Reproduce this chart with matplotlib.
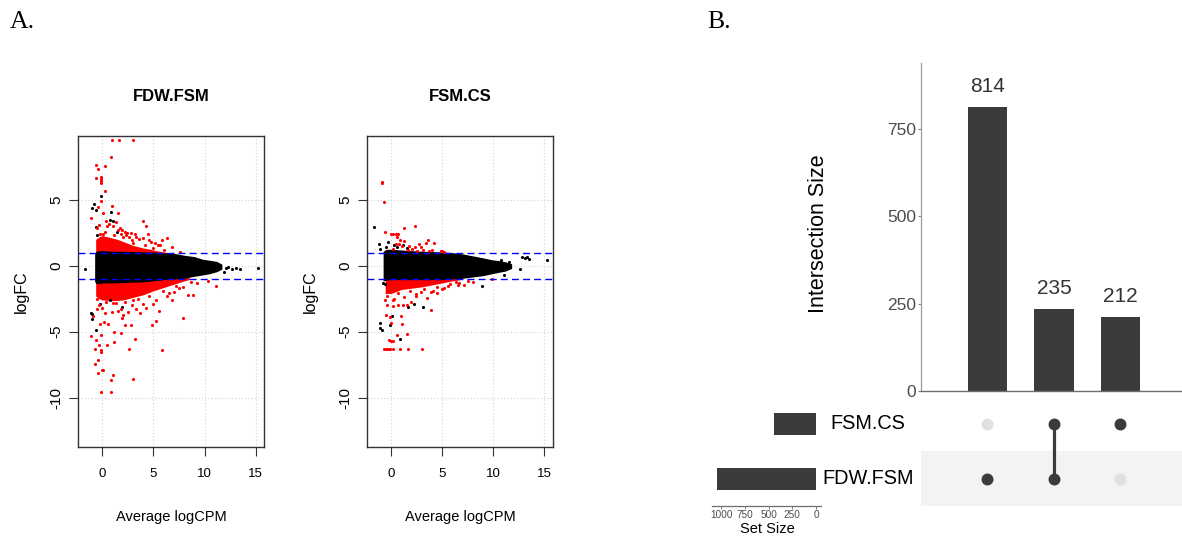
import matplotlib
matplotlib.use('Agg')
import matplotlib.pyplot as plt

W, H = 1182, 538
plt.rcParams['font.family'] = ['Liberation Sans', 'DejaVu Sans']

# ---------------- Panel A data (MA plots) ----------------
ma_titles = ['FDW.FSM', 'FSM.CS']
ma_xticks = [0, 5, 10, 15]
ma_yticks = [-10, -5, 0, 5]
fc_cut = 1.0

# FDW.FSM dense cloud (envelopes of the non-significant black band)
fdw_core_x = [-0.75, -0.6, -0.3, 0, 1, 2, 3, 4, 5, 6, 7, 8, 9, 9.8, 10.5, 11.2, 11.7]
fdw_core_hi = [0.9, 1.1, 1.15, 1.15, 1.1, 1.1, 1.08, 1.05, 1.05, 1.0, 0.95, 0.8, 0.7, 0.5, 0.42, 0.33, 0.12]
fdw_core_lo = [-1.2, -1.35, -1.35, -1.3, -1.3, -1.28, -1.25, -1.22, -1.15, -1.05, -1.0, -0.95, -0.8, -0.7, -0.6, -0.45, -0.25]
# FDW.FSM dense red band above and below the cut-offs
fdw_up_x = [-0.65, -0.3, 0, 0.5, 1, 1.5, 2, 2.5, 3, 3.5, 4, 4.5, 5, 5.5, 6, 6.5]
fdw_up_hi = [2.0, 2.2, 2.3, 2.2, 2.1, 2.0, 1.85, 1.7, 1.55, 1.45, 1.35, 1.28, 1.2, 1.12, 1.05, 1.0]
fdw_dn_x = [-0.65, -0.3, 0, 1, 2, 3, 4, 5, 6, 7, 8, 8.5]
fdw_dn_lo = [-2.3, -2.5, -2.6, -2.65, -2.6, -2.4, -2.2, -1.9, -1.65, -1.4, -1.15, -1.05]
# FDW.FSM individual significant (red) genes
fdw_red_x = [0.95, 1.66, 3.03, 0.88, -0.58, -0.42, 0.23, -0.61, -0.15, -0.12, -0.1, -0.13, 0.23, -0.1,
             -0.45, 0.98, 0.1, -1.13, 1.53, 3.95, 4.3, 4.47, 6.29, 5.83, 3.2, 4.73, 2.25, 2.3, 1.3, 1.0,
             0.7, 1.9, 2.6, 3.6, 5.2, 5.6, 6.8, 7.6, 4.0, 0.4, -0.3, 2.8, 1.7,
             -0.5, 0.1, 0.5, 1.1, 1.5, 2.0, 2.4, 3.0, 3.3, 4.2, 4.6, 5.0, 5.4, 6.0, 0.3, -0.2, 1.8, 2.9,
             10.3, 11.1, 8.9, 8.4, 7.86, 5.8, 5.54, 5.25, 4.9, 3.03, 3.2, 2.58, 2.77, 2.22, 1.89, 1.83,
             1.11, 1.14, 1.01, 0.85, 0.88, -0.09, 0.0, 0.08, -0.39, -0.39, -0.68, -0.71, -0.13, -0.13,
             -0.32, 0.42, -1.07, -0.65, -0.1, -0.2, 0.2, 0.6, -0.9, 7.0, 6.3, 7.5, 6.8, 4.3, 3.7, 2.5,
             0.3, 1.5, -0.5, 5.0, 3.3,
             -0.5, 0.0, 0.4, 0.9, 1.3, 1.8, 2.2, 2.9, 3.5, 4.0, 4.6, 5.3, 5.9, 6.5, 7.2, 7.9, 8.7, 9.3,
             -0.3, 1.0, 2.0, 3.0]
fdw_red_y = [9.55, 9.55, 9.55, 8.28, 7.67, 7.31, 7.54, 6.63, 6.76, 6.6, 6.45, 6.32, 5.69, 4.95,
             4.49, 4.51, 4.04, 3.63, 4.01, 3.43, 3.0, 2.39, 2.13, 1.98, 2.39, 1.83, 2.6, 2.3, 3.3, 3.0,
             3.2, 2.7, 2.2, 2.0, 1.7, 1.6, 1.4, 1.05, 2.1, 3.4, 3.1, 2.5, 2.9,
             2.9, 2.45, 3.05, 2.35, 2.75, 2.15, 2.5, 1.75, 2.15, 1.55, 1.95, 1.35, 1.6, 1.2, 2.6, 2.4, 2.45, 1.95,
             -1.15, -1.5, -2.24, -2.21, -3.94, -6.4, -3.43, -4.22, -4.47, -8.59, -5.54, -6.28, -4.52, -4.52, -3.94, -5.08,
             -5.0, -5.8, -8.28, -8.69, -9.56, -9.56, -7.9, -7.95, -8.13, -7.19, -7.45, -6.28, -6.4, -6.55,
             -6.0, -6.0, -5.36, -5.64, -5.24, -4.4, -4.3, -4.4, -3.8, -2.0, -2.3, -1.7, -2.6, -3.2, -3.6, -3.5,
             -3.6, -3.4, -3.3, -2.9, -3.3,
             -2.5, -3.2, -2.75, -3.5, -2.8, -3.3, -2.75, -3.0, -2.55, -2.9, -2.3, -2.6, -1.9, -2.1, -1.55, -1.6, -1.2, -1.3,
             -3.0, -2.8, -3.7, -2.6]
# FDW.FSM individual non-significant (black) genes outside the dense band
fdw_blk_x = [-0.15, -0.85, -0.97, -0.62, 1.04, -0.62, 0.85, -0.55, 1.4, 0.75,
             12.06, 12.65, 13.04, 13.46, 15.25, -1.69, 12.3, 11.9,
             -1.1, -1.05, -1.0, -0.65, -0.2, 0.8, 1.9]
fdw_blk_y = [5.33, 4.67, 4.42, 4.27, 3.37, 2.95, 4.09, 2.3, 2.6, 3.45,
             -0.2, -0.26, -0.15, -0.26, -0.15, -0.26, -0.1, -0.45,
             -3.6, -3.64, -4.04, -4.85, -2.9, -2.6, -3.1]

# FSM.CS dense cloud
fcs_core_x = [-0.8, -0.5, 0, 1, 2, 3, 4, 5, 6, 7, 8, 9, 9.9, 10.5, 11.2, 11.8]
fcs_core_hi = [1.1, 1.25, 1.25, 1.2, 1.15, 1.1, 1.08, 1.05, 1.0, 0.9, 0.75, 0.6, 0.45, 0.4, 0.3, 0.15]
fcs_core_lo = [-1.15, -1.1, -1.05, -1.05, -1.05, -1.05, -1.05, -1.05, -1.0, -0.95, -0.85, -0.75, -0.6, -0.5, -0.4, -0.2]
fcs_dn_x = [-0.6, 0, 0.5, 1, 2, 3, 4, 5, 6, 7]
fcs_dn_lo = [-2.1, -2.1, -1.95, -1.8, -1.7, -1.6, -1.45, -1.3, -1.15, -1.02]
fcs_red_x = [-0.91, -0.88, -0.69, 1.25, 2.33, -0.65, 0.0, 0.13, 0.49, 0.66, 0.6, 0.9, 1.28, 2.7, 3.58,
             4.17, 3.45, 4.86, 4.95, 2.3, 2.95, 3.1, 1.74, 1.05, 0.45, 0.8, 1.6, 2.5, 4.0, 3.7, 0.2,
             5.2, 2.0,
             9.9, 7.1, 6.6, 6.3, 4.47, 4.1, 3.9, 3.48, 2.43, 1.9, 1.55, 1.14, 0.66, 0.17, -0.52, -0.16,
             -0.06, 0.98, 1.02, 0.6, 1.51, -0.2, -0.07, 0.17, -0.69, -0.55, -0.39, -0.26, -0.13, 0.2,
             0.89, 1.64, 3.05, -0.6, -0.4, 0.3, 2.9, 5.2, 5.6,
             -0.4, 0.2, 0.7, 1.2, 1.8, 2.4, 3.2, 3.9, 4.5, 5.0, 5.8, 6.5, 7.5, 8.0]
fcs_red_y = [6.32, 6.35, 4.82, 2.89, 3.02, 2.56, 2.39, 2.39, 2.39, 2.39, 2.15, 1.98, 1.88, 1.68, 1.95,
             1.75, 1.7, 1.14, 1.1, 1.4, 1.4, 1.2, 1.52, 1.5, 1.65, 1.65, 1.2, 1.1, 1.2, 1.1, 1.3,
             1.05, 1.25,
             -1.02, -1.48, -1.3, -1.2, -2.06, -1.91, -3.33, -2.44, -2.29, -2.75, -3.0, -3.0, -3.0, -3.07, -3.71, -3.89,
             -4.32, -3.81, -4.45, -5.29, -5.21, -5.6, -5.7, -5.74, -6.3, -6.3, -6.3, -6.3, -6.3, -6.3,
             -6.3, -6.3, -6.3, -2.6, -3.0, -2.5, -2.0, -1.7, -1.5,
             -2.3, -2.6, -2.05, -2.4, -1.9, -2.15, -1.75, -2.0, -1.6, -1.75, -1.35, -1.45, -1.15, -1.25]
fcs_blk_x = [-1.7, -1.21, -1.15, 12.8, 13.13, 13.3, 13.5, 15.26, 10.8, 11.5, 12.57, 11.06, 8.86,
             3.15, 2.23, 1.64, 0.04, -0.13, -1.07, -1.1, -0.87, 0.82, -0.6, -0.8, 0.3, -0.3, 1.1,
             -0.5, 0.6, 1.5]
fcs_blk_y = [2.92, 1.63, 1.3, 0.69, 0.56, 0.63, 0.48, 0.43, 0.45, 0.3, -0.28, -0.69, -1.53,
             -3.13, -2.87, -3.13, -3.81, -4.52, -4.37, -4.7, -4.85, -5.57, -1.4, -1.3, 1.6, 1.8, 1.55,
             1.45, 1.4, 1.35]

# ---------------- Panel B data (UpSet) ----------------
set_names = ['FDW.FSM', 'FSM.CS']          # bottom row first
set_sizes = [1049, 447]
intersection_sizes = [814, 235, 212]
membership = [[1, 0], [1, 1], [0, 1]]       # per intersection: in FDW.FSM, in FSM.CS
inter_yticks = [0, 250, 500, 750]
set_xticks = [1000, 750, 500, 250, 0]

fig = plt.figure(figsize=(W / 100, H / 100), dpi=100)


def px_axes(x0, y0, x1, y1):
    return fig.add_axes([x0 / W, 1 - y1 / H, (x1 - x0) / W, (y1 - y0) / H])


def ftext(x, y, s, **kw):
    return fig.text(x / W, 1 - y / H, s, **kw)


def ma_panel(ax, core, up, dn, red, blk):
    for t in ma_xticks:
        ax.axvline(t, color='#d3d3d3', lw=0.8, ls=(0, (1, 2)), zorder=0)
    for t in ma_yticks:
        ax.axhline(t, color='#d3d3d3', lw=0.8, ls=(0, (1, 2)), zorder=0)
    if up is not None:
        ax.fill_between(up[0], [0.9] * len(up[0]), up[1], color='red', lw=0, zorder=1)
    ax.fill_between(dn[0], dn[1], [-0.9] * len(dn[0]), color='red', lw=0, zorder=1)
    ax.fill_between(core[0], core[2], core[1], color='black', lw=0, zorder=2)
    ax.scatter(blk[0], blk[1], s=5, c='black', lw=0, zorder=3)
    ax.scatter(red[0], red[1], s=5, c='red', lw=0, zorder=3)
    for c in (fc_cut, -fc_cut):
        ax.axhline(c, color='blue', lw=1.0, ls=(0, (5, 3)), zorder=4)
    ax.set_xlim(-2.35, 15.85)
    ax.set_ylim(-13.72, 9.83)
    ax.set_xticks(ma_xticks)
    ax.set_xticklabels([str(t) for t in ma_xticks], fontsize=9.5)
    ax.set_yticks(ma_yticks)
    ax.set_yticklabels([str(t) for t in ma_yticks], fontsize=11, rotation=90, va='center')
    ax.tick_params(axis='x', length=6.5, width=0.8, color='#333333', pad=9)
    ax.tick_params(axis='y', length=6.5, width=0.8, color='#333333', pad=4)
    for sp in ax.spines.values():
        sp.set_color('#333333')
        sp.set_linewidth(1.0)


axL = px_axes(78.3, 136.3, 264.3, 446.5)
ma_panel(axL, (fdw_core_x, fdw_core_hi, fdw_core_lo), (fdw_up_x, fdw_up_hi),
         (fdw_dn_x, fdw_dn_lo), (fdw_red_x, fdw_red_y), (fdw_blk_x, fdw_blk_y))
axR = px_axes(367.3, 136.3, 553.0, 446.5)
ma_panel(axR, (fcs_core_x, fcs_core_hi, fcs_core_lo), None,
         (fcs_dn_x, fcs_dn_lo), (fcs_red_x, fcs_red_y), (fcs_blk_x, fcs_blk_y))

for cx, ttl, ylx in ((171.3, ma_titles[0], 21.7), (460.2, ma_titles[1], 310.7)):
    ftext(cx, 96.7, ttl, fontsize=12, fontweight='bold', ha='center', va='center')
    ftext(cx, 516.7, 'Average logCPM', fontsize=10.5, ha='center', va='center')
    ftext(ylx, 291.4, 'logFC', fontsize=11.5, rotation=90, ha='center', va='center')

ftext(10, 22, 'A.', fontsize=18.5, family='Liberation Serif', ha='left', va='center')
ftext(707, 22, 'B.', fontsize=18.5, family='Liberation Serif', ha='left', va='center')

# ---------------- Panel B: UpSet ----------------
dark = '#3b3b3b'
xs = [1, 2, 3]

axB = px_axes(921, 63, 1182, 391)
axB.bar(xs, intersection_sizes, width=0.6, color=dark, zorder=2)
for x, v in zip(xs, intersection_sizes):
    axB.annotate(str(v), (x, v), xytext=(0, 8), textcoords='offset points',
                 ha='center', va='bottom', fontsize=15, color='#333333')
axB.set_xlim(0, 3.925)
axB.set_ylim(0, 939)
axB.set_xticks([])
axB.set_yticks(inter_yticks)
axB.set_yticklabels([str(t) for t in inter_yticks], fontsize=12.5, color='#4d4d4d')
axB.tick_params(axis='y', length=2.5, width=0.8, color='#808080', pad=1)
axB.spines['top'].set_visible(False)
axB.spines['right'].set_visible(False)
axB.spines['left'].set_color('#9a9a9a')
axB.spines['bottom'].set_color('#6e6e6e')
axB.spines['left'].set_linewidth(0.9)
axB.spines['bottom'].set_linewidth(1.0)
ftext(818, 234, 'Intersection Size', fontsize=15.5, rotation=90, ha='center', va='center')

axM = px_axes(921, 396, 1182, 506)
axM.axhspan(-0.5, 0.5, color='#f3f3f3', lw=0, zorder=0)
for x, mem in zip(xs, membership):
    rows = [j for j, m in enumerate(mem) if m]
    if len(rows) > 1:
        axM.plot([x, x], [min(rows), max(rows)], color=dark, lw=2.3, zorder=2)
    for j, m in enumerate(mem):
        axM.plot([x], [j], 'o', ms=8.6, color=dark if m else '#e0e0e0', mec='none', zorder=3)
axM.set_xlim(0, 3.925)
axM.set_ylim(-0.5, 1.5)
axM.axis('off')

axS = px_axes(712, 396, 821, 506)
axS.barh([0, 1], set_sizes, height=0.4, color=dark)
axS.set_xlim(1098, -53)
axS.set_ylim(-0.5, 1.5)
axS.set_yticks([])
axS.set_xticks(set_xticks)
axS.set_xticklabels([str(t) for t in set_xticks], fontsize=7.2, color='#4d4d4d')
axS.tick_params(axis='x', length=2, width=0.7, color='#808080', pad=1)
for s in ('top', 'right', 'left'):
    axS.spines[s].set_visible(False)
axS.spines['bottom'].set_color('#6e6e6e')
axS.spines['bottom'].set_linewidth(0.9)
ftext(767, 529, 'Set Size', fontsize=10.5, ha='center', va='center')

for j, nm in enumerate(set_names):
    ftext(868, 478.5 - 55 * j, nm, fontsize=14.3, ha='center', va='center')

fig.savefig('out.png', dpi=100)
